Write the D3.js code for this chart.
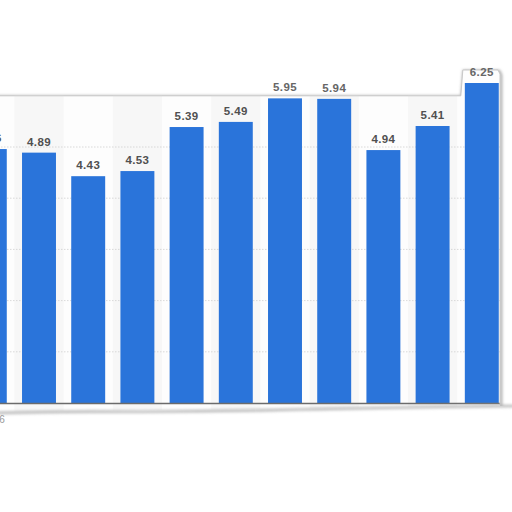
<!DOCTYPE html>
<html><head><meta charset="utf-8">
<script src="https://cdn.jsdelivr.net/npm/d3@7"></script>
<style>html,body{margin:0;padding:0;background:#fff;}svg{display:block;}</style>
</head><body>
<script>
const categories = ["2006","2007","2008","2009","2010","2011","2012","2013","2014","2015","2016"];
const values = [4.96, 4.89, 4.43, 4.53, 5.39, 5.49, 5.95, 5.94, 4.94, 5.41, 6.25];
const gridTicks = [1,2,3,4,5];

const W = 512, H = 512;
const svg = d3.select("body").append("svg").attr("width", W).attr("height", H);
const defs = svg.append("defs");
const f = defs.append("filter").attr("id","blur").attr("x","-20%").attr("y","-50%").attr("width","140%").attr("height","200%");
f.append("feGaussianBlur").attr("stdDeviation", 1.6);

const x = d3.scaleBand().domain(categories).range([-34.8, 506.4]).paddingInner(0.31).paddingOuter(0.155);
const y = d3.scaleLinear().domain([0, 6]).range([403, 95.8]);

const rightEdge = 500;
const stepX = x(categories[10]) - 4;
const topY = y(6);
const highTop = 70;

const framePts = [[-5, topY],[stepX, topY],[stepX+2, highTop],[rightEdge-2, highTop],[rightEdge, highTop+4],[rightEdge, 406],[-5, 412]];
defs.append("clipPath").attr("id","fc").append("polygon").attr("points", framePts.map(p=>p.join(",")).join(" "));

svg.append("polyline")
  .attr("points", [[-5, topY],[stepX, topY],[stepX+2, highTop],[rightEdge-2, highTop],[rightEdge, highTop+4],[rightEdge, 406]].map(p=>p.join(",")).join(" "))
  .attr("fill","none").attr("stroke","#999").attr("stroke-width",2.2).attr("filter","url(#blur)").attr("transform","translate(1,1)");

const g = svg.append("g").attr("clip-path","url(#fc)");
g.append("rect").attr("x",-5).attr("y",60).attr("width",520).attr("height",360).attr("fill","#fdfdfd");
g.selectAll("rect.band").data(categories.filter((d,i)=>i%2===1)).join("rect")
  .attr("x", d => x(d) - x.step()*x.paddingInner()/2)
  .attr("y", 60).attr("width", x.step()).attr("height", 360).attr("fill","#f7f7f7");

g.selectAll("line.grid").data(gridTicks).join("line")
  .attr("x1",-5).attr("x2",rightEdge).attr("y1", d=>y(d)).attr("y2", d=>y(d))
  .attr("stroke","#cfcfcf").attr("stroke-width",0.8).attr("stroke-dasharray","1.5,1.5");

g.selectAll("rect.bar").data(values).join("rect")
  .attr("x",(d,i)=>x(categories[i])).attr("width",x.bandwidth())
  .attr("y",d=>y(d)).attr("height",d=>y(0)-y(d)).attr("fill","#2a74da");

g.append("line").attr("x1",-5).attr("x2",rightEdge).attr("y1",y(0)+0.5).attr("y2",y(0)+0.5).attr("stroke","#6b6b6b").attr("stroke-width",1.4);

svg.append("polyline")
  .attr("points", [[-5, topY],[stepX, topY],[stepX+2, highTop],[rightEdge-2, highTop],[rightEdge, highTop+4],[rightEdge, 405]].map(p=>p.join(",")).join(" "))
  .attr("fill","none").attr("stroke","#c8c8c8").attr("stroke-width",1);

svg.selectAll("text.val").data(values).join("text")
  .attr("x",(d,i)=>x(categories[i])+x.bandwidth()/2)
  .attr("y",d=>y(d)-7)
  .attr("text-anchor","middle")
  .attr("font-family","Liberation Sans, Arial, sans-serif")
  .attr("font-weight","bold").attr("font-size",11.5).attr("letter-spacing",0.4)
  .attr("fill",(d)=> d>=5.9 ? "#666" : "#505050")
  .text(d=>d.toFixed(2));

const tear = [[-5,413],[40,412],[90,411.5],[140,412],[200,411],[260,410.5],[320,409],[380,408],[440,407],[500,406],[515,406]];
svg.append("path").attr("d", d3.line()(tear.concat([[515,520],[-5,520]])) + "Z").attr("fill","#fff");
svg.append("path").attr("d", d3.line().curve(d3.curveBasis)(tear)).attr("fill","none")
  .attr("stroke","#aaa").attr("stroke-width",2.2).attr("filter","url(#blur)");

svg.append("text").attr("x", x(categories[0]) + x.bandwidth()/2 + 4).attr("y", 423)
  .attr("text-anchor","middle").attr("font-family","Liberation Sans, Arial, sans-serif")
  .attr("font-size",10).attr("fill","#999").text(categories[0]);
</script>
</body></html>
